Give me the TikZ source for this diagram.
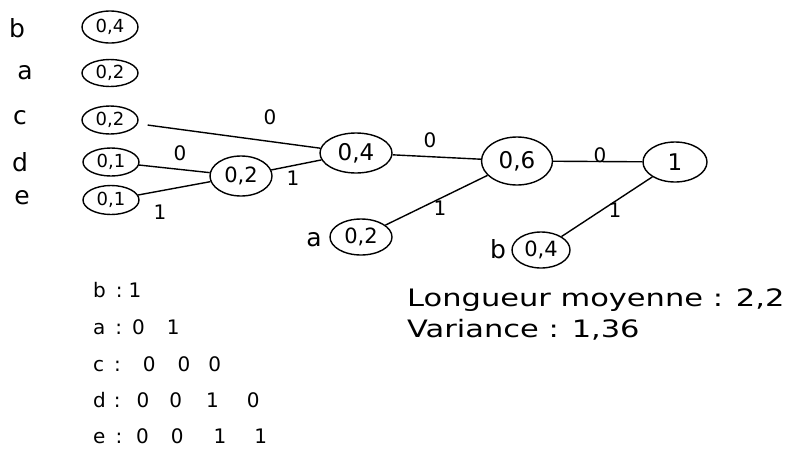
\documentclass[tikz,border=0pt]{standalone}
\usepackage{fontspec}
\setmainfont{DejaVu Sans}
\usetikzlibrary{shapes.geometric}
\begin{document}
\begin{tikzpicture}[x=1pt,y=-1pt,
  ell/.style={ellipse,draw,line width=1.4pt,inner sep=0pt},
  leafell/.style={ell,minimum width=56pt,minimum height=30pt,font=\fontsize{18}{18}\selectfont},
  edge/.style={line width=1.4pt},
  lab/.style={font=\fontsize{20}{20}\selectfont,inner sep=0pt},
  letter/.style={font=\fontsize{25}{25}\selectfont,inner sep=0pt},
  code/.style={font=\fontsize{20}{20}\selectfont,inner sep=0pt,anchor=west},
  res/.style={font=\fontsize{24}{24}\selectfont,inner sep=0pt,anchor=west}
]
\useasboundingbox[fill=white] (0,0) rectangle (791,461);

% left column
\node[letter] (lb) at (17,28) {b};
\node[letter] (la) at (25,73) {a};
\node[letter] (lc) at (20,118) {c};
\node[letter] (ld) at (20,162) {d};
\node[letter] (le) at (22,198) {e};

\node[leafell,minimum height=32pt] (e1) at (110,27) {0,4};
\node[leafell,minimum height=27pt] (e2) at (110,73) {0,2};
\node[leafell,minimum height=28pt] (e3) at (110,120) {0,2};
\node[leafell,minimum height=28pt] (e4) at (111,162) {0,1};
\node[leafell,minimum height=29pt] (e5) at (111,200) {0,1};

% internal nodes
\node[ell,minimum width=62pt,minimum height=40pt,font=\fontsize{21}{21}\selectfont] (n02) at (241,176) {0,2};
\node[ell,minimum width=72pt,minimum height=40pt,font=\fontsize{23}{23}\selectfont] (n04) at (356,153) {0,4};
\node[ell,minimum width=71pt,minimum height=48pt,font=\fontsize{23}{23}\selectfont] (n06) at (517,161) {0,6};
\node[ell,minimum width=64pt,minimum height=40pt,font=\fontsize{23}{23}\selectfont] (n1) at (675,162) {1};

% leaves
\node[letter] (ta) at (314,240) {a};
\node[ell,minimum width=62pt,minimum height=36pt,font=\fontsize{21}{21}\selectfont] (la2) at (361,237) {0,2};
\node[letter] (tb) at (498,249) {b};
\node[ell,minimum width=58pt,minimum height=36pt,font=\fontsize{21}{21}\selectfont] (lb4) at (541,250) {0,4};

% edges
\draw[edge,shorten <=10pt] (e3) -- (n04);
\draw[edge] (e4) -- (n02);
\draw[edge] (e5) -- (n02);
\draw[edge] (n02) -- (n04);
\draw[edge] (n04) -- (n06);
\draw[edge] (la2) -- (n06);
\draw[edge] (n06) -- (n1);
\draw[edge] (lb4) -- (n1);

% edge labels
\node[lab] (l1) at (270,117) {0};
\node[lab] (l2) at (180,153) {0};
\node[lab] (l3) at (160,212) {1};
\node[lab] (l4) at (293,178) {1};
\node[lab] (l5) at (430,140) {0};
\node[lab] (l6) at (440,208) {1};
\node[lab] (l7) at (600,155) {0};
\node[lab] (l8) at (615,210) {1};

% codes
\node[code] (cb) at (93,290) {b\hspace{10pt}:\hspace{6pt}1};
\node[code] (ca) at (93,327) {a\hspace{10pt}:\hspace{10pt}0\hspace{22pt}1};
\node[code] (cc) at (93,364) {c\hspace{10pt}:\hspace{22pt}0\hspace{22pt}0\hspace{18pt}0};
\node[code] (cd) at (93,400) {d\hspace{8pt}:\hspace{16pt}0\hspace{20pt}0\hspace{24pt}1\hspace{28pt}0};
\node[code] (ce) at (93,436) {e\hspace{10pt}:\hspace{14pt}0\hspace{22pt}0\hspace{30pt}1\hspace{28pt}1};

% results
\node[res] (r1) at (407,300) {\scalebox{1.27}[1]{Longueur moyenne : 2,2}};
\node[res] (r2) at (407,330) {\scalebox{1.27}[1]{Variance : 1,36}};
\end{tikzpicture}
\end{document}
